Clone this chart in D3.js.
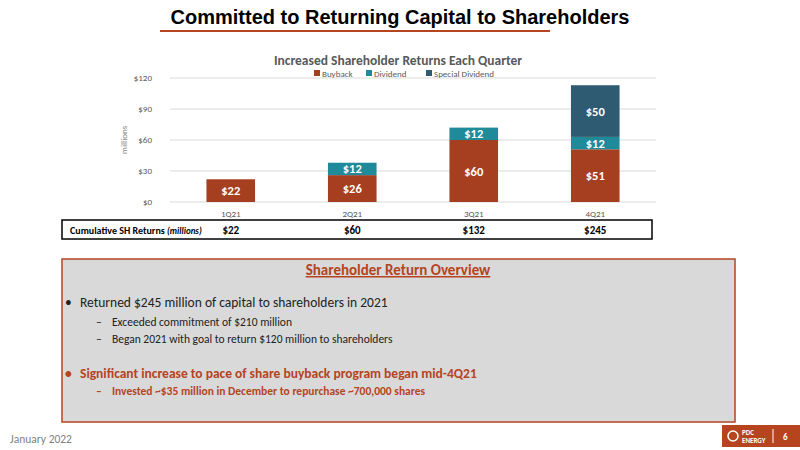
<!DOCTYPE html>
<html><head><meta charset="utf-8">
<script src="https://cdnjs.cloudflare.com/ajax/libs/d3/7.8.5/d3.min.js"></script>
<style>body{margin:0;background:#fff}svg{display:block}</style></head>
<body><svg id="c" width="800" height="450"></svg>
<script>
const quarters = ["1Q21","2Q21","3Q21","4Q21"];
const buyback = [22,26,60,51];
const dividend = [0,12,12,12];
const special = [0,0,0,50];
const cumulative = ["$22","$60","$132","$245"];
const yTicks = [0,30,60,90,120];
const seriesNames = ["Buyback","Dividend","Special Dividend"];
const colors = ["#a63f1f","#1f8a99","#2e5a72"];

const svg = d3.select("#c");
const F = "Calibri, Carlito, 'Open Sans', sans-serif";
const orange = "#b5441f";

svg.append("text").attr("x",400).attr("y",24).attr("text-anchor","middle")
  .attr("font-family","Liberation Sans, Arial").attr("font-weight","bold").attr("font-size",20).text("Committed to Returning Capital to Shareholders");
svg.append("line").attr("x1",160).attr("x2",550).attr("y1",31).attr("y2",31).attr("stroke",orange).attr("stroke-width",2);

const x = d3.scaleBand().domain(quarters).range([170,656]).paddingInner(0.6).paddingOuter(0.3);
const y = d3.scaleLinear().domain([0,120]).range([202,78]);

const g = svg.append("g");
g.selectAll(".grid").data(yTicks).join("line").attr("x1",170).attr("x2",656)
  .attr("y1",d=>y(d)).attr("y2",d=>y(d)).attr("stroke","#d9d9d9").attr("stroke-width",1);
const ya = d3.axisLeft(y).tickValues(yTicks).tickFormat(d=>"$"+d).tickSize(0).tickPadding(18);
svg.append("g").attr("transform","translate(170,0)").call(ya).call(a=>a.select(".domain").remove())
  .selectAll("text").attr("font-family",F).attr("font-size",9).attr("fill","#595959");
const xa = d3.axisBottom(x).tickSize(0).tickPadding(9);
svg.append("g").attr("transform","translate(0,202)").call(xa).call(a=>a.select(".domain").remove())
  .selectAll("text").attr("font-family",F).attr("font-size",9).attr("fill","#595959");
svg.append("text").attr("transform","translate(127,140) rotate(-90)").attr("text-anchor","middle")
  .attr("font-family",F).attr("font-size",9).attr("fill","#7f7f7f").text("millions");

const data = quarters.map((q,i)=>({q,Buyback:buyback[i],Dividend:dividend[i],"Special Dividend":special[i]}));
const stack = d3.stack().keys(seriesNames)(data);
stack.forEach((s,si)=>{
  s.forEach(d=>{
    const v=d[1]-d[0]; if(!v) return;
    g.append("rect").attr("x",x(d.data.q)).attr("width",x.bandwidth()).attr("y",y(d[1])).attr("height",y(d[0])-y(d[1])).attr("fill",colors[si]);
    g.append("text").attr("x",x(d.data.q)+x.bandwidth()/2).attr("y",(y(d[0])+y(d[1]))/2+4.5).attr("text-anchor","middle")
      .attr("font-family",F).attr("font-weight","bold").attr("font-size",12.5).attr("fill","#fff").text("$"+v);
  });
});

svg.append("text").attr("x",398).attr("y",65).attr("text-anchor","middle").attr("font-family",F).attr("font-weight","bold")
  .attr("font-size",13.5).attr("fill","#595959").text("Increased Shareholder Returns Each Quarter");
const lx=[314,366,426];
seriesNames.forEach((n,i)=>{
  svg.append("rect").attr("x",lx[i]).attr("y",70).attr("width",6).attr("height",6).attr("fill",colors[i]);
  svg.append("text").attr("x",lx[i]+8).attr("y",76.5).attr("font-family",F).attr("font-size",9).attr("fill","#595959").text(n);
});

svg.append("rect").attr("x",62).attr("y",220).attr("width",590).attr("height",19).attr("fill","#fff").attr("stroke","#000").attr("stroke-width",1.5);
svg.append("text").attr("x",70).attr("y",233.5).attr("font-family",F).attr("font-weight","bold").attr("font-size",10)
  .html('Cumulative SH Returns <tspan font-style="italic" font-size="9">(millions)</tspan>');
quarters.forEach((q,i)=>svg.append("text").attr("x",x(q)+x.bandwidth()/2).attr("y",233.5).attr("text-anchor","middle")
  .attr("font-family",F).attr("font-weight","bold").attr("font-size",11).text(cumulative[i]));

svg.append("rect").attr("x",62).attr("y",259).attr("width",673).attr("height",163).attr("fill","#d9d9d9").attr("stroke",orange).attr("stroke-width",1.5);
svg.append("text").attr("x",398).attr("y",275).attr("text-anchor","middle").attr("font-family",F).attr("font-weight","bold")
  .attr("font-size",15).attr("fill",orange).attr("text-decoration","underline").text("Shareholder Return Overview");
const lines=[
 {t:"•",x:65,y:307,s:13.5},{t:"Returned $245 million of capital to shareholders in 2021",x:80,y:307,s:13.5},
 {t:"–",x:96,y:326,s:11.5},{t:"Exceeded commitment of $210 million",x:112,y:326,s:11.5},
 {t:"–",x:96,y:343,s:11.5},{t:"Began 2021 with goal to return $120 million to shareholders",x:112,y:343,s:11.5},
 {t:"•",x:65,y:378,s:13.5,c:orange,b:1},{t:"Significant increase to pace of share buyback program began mid-4Q21",x:80,y:378,s:13.5,c:orange,b:1},
 {t:"–",x:96,y:395,s:11.5,c:orange,b:1},{t:"Invested ~$35 million in December to repurchase ~700,000 shares",x:112,y:395,s:11.5,c:orange,b:1}
];
lines.forEach(l=>svg.append("text").attr("x",l.x).attr("y",l.y).attr("font-family",F).attr("font-size",l.s)
  .attr("font-weight",l.b?"bold":"normal").attr("fill",l.c||"#222").text(l.t));

svg.append("text").attr("x",10).attr("y",443).attr("font-family",F).attr("font-size",11.5).attr("fill","#7f7f7f").text("January 2022");
svg.append("rect").attr("x",722).attr("y",425).attr("width",78).attr("height",22).attr("fill",orange);
svg.append("text").attr("x",742).attr("y",435).attr("font-family",F).attr("font-weight","bold").attr("font-size",7).attr("fill","#fff").text("PDC");
svg.append("text").attr("x",742).attr("y",443).attr("font-family",F).attr("font-weight","bold").attr("font-size",7).attr("fill","#fff").text("ENERGY");
svg.append("circle").attr("cx",733).attr("cy",436).attr("r",5).attr("fill","none").attr("stroke","#fff").attr("stroke-width",1.5);
svg.append("line").attr("x1",773).attr("x2",773).attr("y1",429).attr("y2",443).attr("stroke","#fff");
svg.append("text").attr("x",783).attr("y",440).attr("font-family",F).attr("font-weight","bold").attr("font-size",9).attr("fill","#fff").text("6");
</script></body></html>
